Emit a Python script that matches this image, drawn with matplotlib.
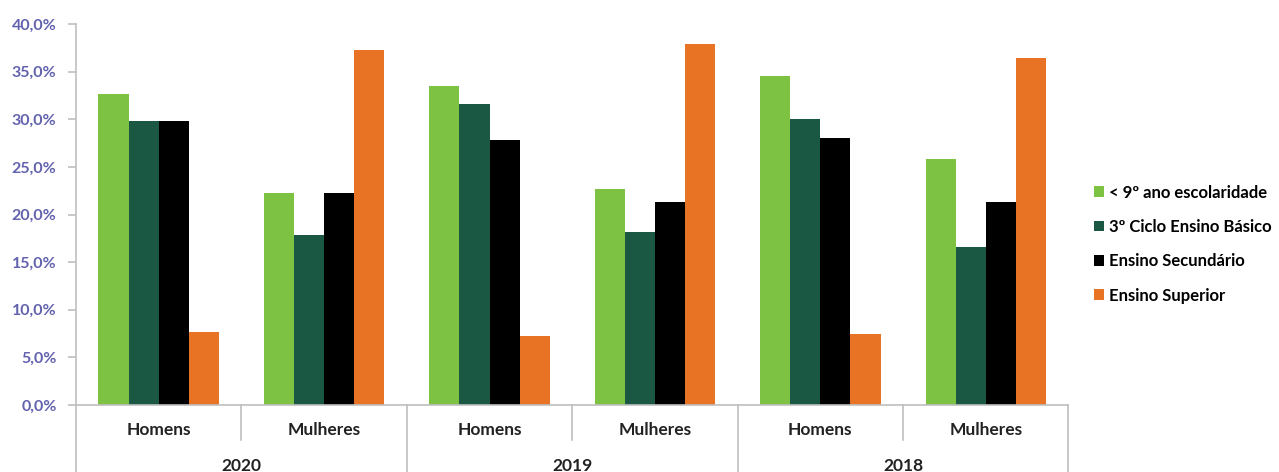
import matplotlib.pyplot as plt
import numpy as np
from matplotlib.ticker import FuncFormatter

plt.rcParams['font.family'] = ['Lato', 'DejaVu Sans']

years = ["2020", "2019", "2018"]
sexes = ["Homens", "Mulheres"]
series = ["< 9º ano escolaridade", "3º Ciclo Ensino Básico", "Ensino Secundário", "Ensino Superior"]
colors = ["#7DC242", "#1B5844", "#000000", "#E87324"]

# order: 2020 H, 2020 M, 2019 H, 2019 M, 2018 H, 2018 M
basico9 = [32.7, 22.3, 33.5, 22.7, 34.5, 25.8]
ciclo3 = [29.8, 17.9, 31.6, 18.2, 30.0, 16.6]
secundario = [29.8, 22.3, 27.8, 21.3, 28.0, 21.3]
superior = [7.7, 37.3, 7.2, 37.9, 7.5, 36.4]
values = [basico9, ciclo3, secundario, superior]

fig = plt.figure(figsize=(12.79, 4.72), dpi=100)
ax = fig.add_axes([0.0594, 0.142, 0.776, 0.807])

x = np.arange(len(basico9))
w = 0.182
for i, (vals, c, name) in enumerate(zip(values, colors, series)):
    ax.bar(x + (i - 1.5) * w, vals, w, color=c, label=name)

ax.set_xlim(-0.5, len(x) - 0.5)
ax.set_ylim(0, 40)
ax.set_yticks(np.arange(0, 41, 5))
ax.yaxis.set_major_formatter(FuncFormatter(lambda v, p: f"{v:.1f}%".replace(".", ",")))
ax.tick_params(axis='y', colors='#BFBFBF', labelcolor='#6262AE', labelsize=11.5,
               length=6, width=1.2, pad=8)
for lab in ax.get_yticklabels():
    lab.set_fontweight('bold')
ax.set_xticks([])
for s in ["top", "right"]:
    ax.spines[s].set_visible(False)
for s in ["left", "bottom"]:
    ax.spines[s].set_color('#BFBFBF')
    ax.spines[s].set_linewidth(1.2)

# category axis: separators and labels
trans = ax.get_xaxis_transform()
for k in range(len(x) + 1):
    bottom = -0.092 if k % 2 == 1 else -0.2
    ax.plot([k - 0.5, k - 0.5], [0, bottom], transform=trans, color='#BFBFBF', lw=1.2, clip_on=False)
for k in range(len(x)):
    ax.text(k, -0.066, sexes[k % 2], transform=trans, ha='center', va='center',
            fontsize=12.5, fontweight='bold', color='#222222')
for j, yr in enumerate(years):
    ax.text(2 * j + 0.5, -0.16, yr, transform=trans, ha='center', va='center',
            fontsize=12.5, fontweight='bold', color='#222222')

ax.legend(loc='center left', bbox_to_anchor=(0.855, 0.483), bbox_transform=fig.transFigure,
          frameon=False, handlelength=0.6, handleheight=0.6, borderpad=0, borderaxespad=0,
          handletextpad=0.35, labelspacing=1.1, prop={'weight': 'bold', 'size': 12})

fig.savefig("out.png", dpi=100)
